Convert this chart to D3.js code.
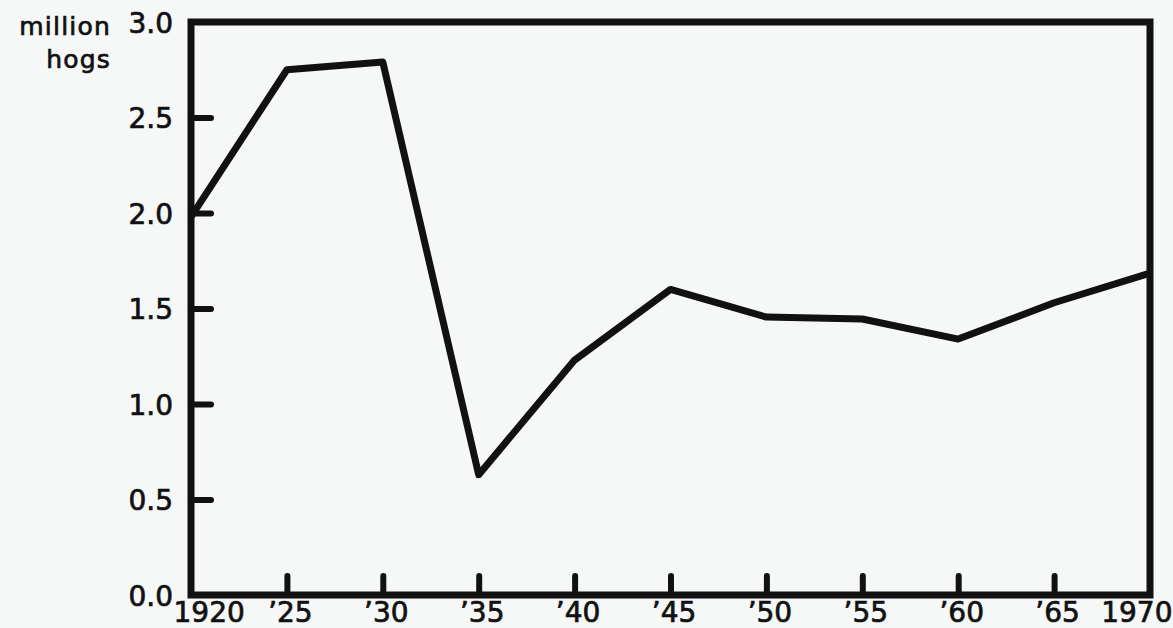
<!DOCTYPE html>
<html>
<head>
<meta charset="utf-8">
<script src="https://cdn.jsdelivr.net/npm/d3@7"></script>
<style>
    body { margin: 0; background: #f6f7f7; }
    svg { display: block; }
    text { font-family: "DejaVu Sans", sans-serif; fill: #111; stroke: #111; stroke-width: 0.7px; }
</style>
</head>
<body>
<svg id="chart" width="1173" height="628"></svg>
<script>
// hogs on farms, millions, every five years
let years = [1920, 1925, 1930, 1935, 1940, 1945, 1950, 1955, 1960, 1965, 1970];
let hogs = [1.98, 2.75, 2.79, 0.63, 1.23, 1.60, 1.455, 1.445, 1.34, 1.53, 1.685];
let y_ticks = [0, 0.5, 1.0, 1.5, 2.0, 2.5, 3.0];
let x_tick_labels = ['1920', '\u201925', '\u201930', '\u201935', '\u201940', '\u201945', '\u201950', '\u201955', '\u201960', '\u201965', '1970'];

let svg = d3.select('#chart');
let left = 191, right = 1150, top_y = 22, bottom = 595;
let axis_width = 7;

let x = d3.scaleLinear().domain([1920, 1970]).range([left, right]);
let y = d3.scaleLinear().domain([0, 3]).range([bottom, top_y]);

// frame
svg.append('rect')
    .attr('x', left).attr('y', top_y)
    .attr('width', right - left).attr('height', bottom - top_y)
    .attr('fill', 'none')
    .attr('stroke', '#111')
    .attr('stroke-width', axis_width);

// y axis
let y_axis = svg.append('g')
    .attr('transform', 'translate(' + left + ',0)')
    .call(d3.axisLeft(y).tickValues(y_ticks).tickFormat(d3.format('.1f')).tickSize(-20).tickPadding(18));
y_axis.select('.domain').remove();
y_axis.selectAll('line')
    .attr('stroke', '#111').attr('stroke-width', 6).attr('stroke-linecap', 'round')
    .filter(d => d === 0 || d === 3).remove();
y_axis.selectAll('text')
    .style('font-size', '28px')
    .attr('x', -18)
    .attr('dy', '0.36em')
    .attr('fill', '#111');

// x axis
let x_axis = svg.append('g')
    .attr('transform', 'translate(0,' + bottom + ')')
    .call(d3.axisBottom(x).tickValues(years).tickFormat((d, i) => x_tick_labels[i]).tickSize(-19).tickPadding(0));
x_axis.select('.domain').remove();
x_axis.selectAll('line')
    .attr('stroke', '#111').attr('stroke-width', 6).attr('stroke-linecap', 'round')
    .filter((d, i) => i === 0 || i === years.length - 1).remove();
x_axis.selectAll('text')
    .style('font-size', '28px')
    .attr('y', 27)
    .attr('dy', 0)
    .attr('fill', '#111')
    .attr('text-anchor', (d, i) => i === 0 ? 'start' : (i === years.length - 1 ? 'end' : 'middle'))
    .attr('x', (d, i) => i === 0 ? -18 : (i === years.length - 1 ? 22 : 3));

// unit label
let unit = svg.append('text')
    .attr('text-anchor', 'end')
    .style('font-size', '25px')
    .style('letter-spacing', '1.2px');
unit.append('tspan').attr('x', 111).attr('y', 35).text('million');
unit.append('tspan').attr('x', 111).attr('y', 68).text('hogs');

// data line
let line = d3.line()
    .x((d, i) => x(years[i]))
    .y(d => y(d));

svg.append('path')
    .datum(hogs)
    .attr('d', line)
    .attr('fill', 'none')
    .attr('stroke', '#111')
    .attr('stroke-width', 7)
    .attr('stroke-linejoin', 'round');
</script>
</body>
</html>
